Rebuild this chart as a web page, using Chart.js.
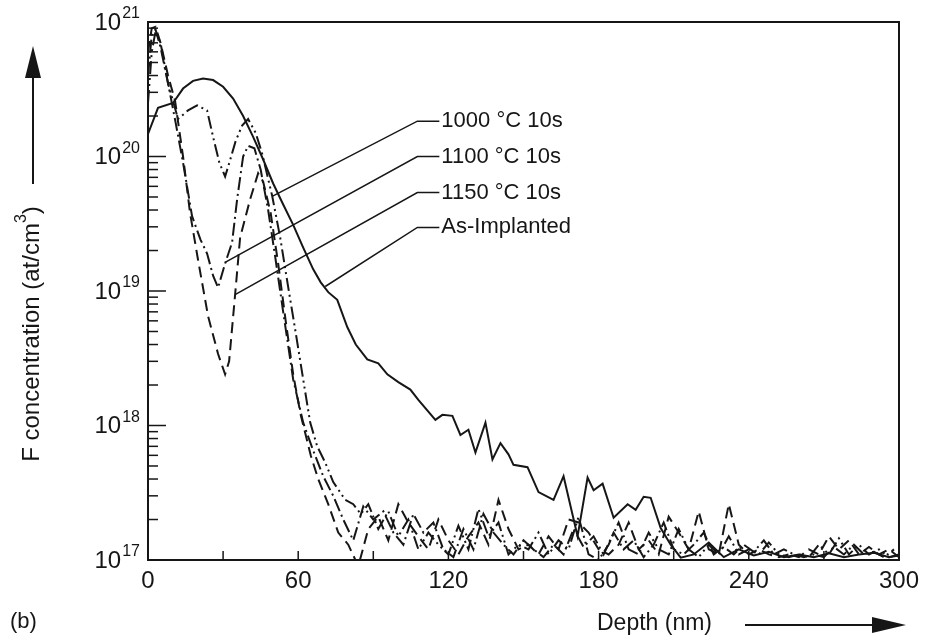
<!DOCTYPE html>
<html>

<head>
    <meta charset="UTF-8" />
    <title>F concentration profile</title>
    <style>
        html, body { margin: 0; padding: 0; background: #fff; }
        canvas#chartId { display: block; }
    </style>
</head>

<body>
    <canvas id="chartId" width="928" height="642"></canvas>
    <script src="https://cdn.jsdelivr.net/npm/chart.js@4/dist/chart.umd.min.js"></script>
    <script>
        // ---- data (depth in nm, concentration in at/cm3) ----
        const asDepth = [0, 4, 10, 14, 18, 22, 26, 30, 34, 38, 42, 46, 50, 54, 58, 62, 66, 69, 72, 75.6,
            79.6, 83, 87.6, 92, 95.6, 100, 104.8, 108, 114.8, 117.6, 121.6, 124.8, 128, 130.8, 134.8, 137.6,
            140.8, 144, 146, 151.6, 156, 162, 166, 171.6, 175.6, 178, 181.6, 186, 191.6, 194.8, 198, 200.8,
            204.8, 208.8, 212.8, 218, 224, 230, 236, 242, 248, 254, 260, 266, 272, 278, 284, 290, 296, 300];
        const asConc = [1.47e20, 2.3e20, 2.5e20, 3.2e20, 3.65e20, 3.8e20, 3.7e20, 3.3e20, 2.7e20, 2.0e20,
            1.4e20, 9.5e19, 6.3e19, 4.4e19, 3.1e19, 2.1e19, 1.45e19, 1.16e19, 9.8e18, 8.6e18,
            5.4e18, 4.0e18, 3.1e18, 2.9e18, 2.4e18, 2.1e18, 1.85e18, 1.55e18, 1.1e18, 1.2e18,
            1.18e18, 8.5e17, 9.3e17, 6.3e17, 1.05e18, 5.6e17, 7.4e17, 6.1e17, 5.1e17, 4.9e17,
            3.2e17, 2.8e17, 4.2e17, 1.5e17, 4.1e17, 3.3e17, 3.7e17, 2.06e17, 2.6e17, 2.36e17,
            2.95e17, 2.9e17, 1.73e17, 1.3e17, 1.04e17, 1.1e17, 1.35e17, 1.05e17, 1.2e17, 1.08e17,
            1.15e17, 1.05e17, 1.1e17, 1.05e17, 1.12e17, 1.05e17, 1.1e17, 1.13e17, 1.05e17, 1.08e17];

        const d1000Depth = [0, 1.5, 3, 5, 8, 12, 16, 19.6, 23.6, 26, 28.5, 30.8, 32.5, 35, 37.6, 40, 43, 45.6,
            49.6, 52.8, 56, 59, 62, 64.8, 67.6, 70.8, 74, 78.8,
            82, 85, 88, 92, 96, 100, 104, 108, 112, 116, 120, 124, 128, 132, 136, 140, 144, 148, 152, 156,
            160, 164, 168, 172, 176, 180, 184, 188, 192, 196, 200, 204, 208, 212, 216, 220, 224, 228, 232,
            236, 240, 244, 248, 252, 256, 260, 264, 268, 272, 276, 280, 284, 288, 292, 296, 300];
        const d1000Conc = [2.5e20, 6e20, 8.5e20, 7e20, 3.5e20, 1.9e20, 2.2e20, 2.4e20, 2.2e20, 1.4e20, 9e19,
            7.1e19, 9e19, 1.3e20, 1.7e20, 1.9e20, 1.5e20, 1.05e20, 5.1e19, 2.5e19, 1.07e19, 4.9e18, 2.2e18,
            1.05e18, 7e17, 5.3e17, 3.8e17, 2.8e17,
            2.6e17, 2.2e17, 2.6e17, 1.7e17, 2.3e17, 1.5e17, 2.0e17, 1.2e17, 1.6e17, 1.3e17, 1.1e17, 1.8e17,
            1.2e17, 2.4e17, 1.5e17, 1.9e17, 1.1e17, 1.3e17, 1.2e17, 1.6e17, 1.1e17, 1.4e17, 1.2e17, 2.1e17,
            1.1e17, 1.0e17, 1.3e17, 1.9e17, 1.2e17, 1.1e17, 1.6e17, 1.2e17, 1.1e17, 1.7e17, 1.2e17, 1.05e17,
            1.3e17, 1.1e17, 1.5e17, 1.1e17, 1.2e17, 1.1e17, 1.35e17, 1.1e17, 1.05e17, 1.1e17, 1.05e17,
            1.3e17, 1.1e17, 1.45e17, 1.1e17, 1.3e17, 1.1e17, 1.2e17, 1.05e17, 1.1e17];

        const d1100Depth = [0, 1.5, 3, 5, 8, 11, 14, 17.6, 21, 23.6, 26, 28, 30.8, 33.6, 35.6, 38, 40, 42.5, 45,
            48, 51, 54, 58, 62, 66, 70, 74,
            78, 82, 86, 90, 94, 98, 102, 106, 110, 114, 118, 122, 126, 130, 134, 138, 142, 146, 150, 154,
            158, 162, 166, 170, 174, 178, 182, 186, 190, 194, 198, 202, 206, 210, 214, 218, 222, 226, 230,
            234, 238, 242, 246, 250, 254, 258, 262, 266, 270, 274, 278, 282, 286, 290, 294, 298];
        const d1100Conc = [4e20, 8e20, 8.8e20, 6.5e20, 3.5e20, 1.8e20, 9e19, 3.6e19, 2.4e19, 1.9e19, 1.3e19,
            1.06e19, 1.6e19, 2.3e19, 4.8e19, 1.0e20, 1.2e20, 1.15e20, 8e19, 4e19, 1.7e19, 7e18, 2.2e18,
            1.05e18, 6.5e17, 4.2e17, 3e17,
            2.0e17, 1.4e17, 2.5e17, 2.0e17, 2.3e17, 1.6e17, 1.3e17, 2.2e17, 1.6e17, 1.9e17, 1.2e17, 1.05e17,
            1.7e17, 1.2e17, 2.2e17, 1.6e17, 1.3e17, 1.1e17, 1.4e17, 1.2e17, 1.05e17, 1.3e17, 1.1e17, 1.7e17,
            1.25e17, 1.5e17, 1.1e17, 1.6e17, 1.2e17, 1.4e17, 1.05e17, 1.3e17, 1.9e17, 1.2e17, 1.1e17,
            1.3e17, 1.6e17, 1.1e17, 1.25e17, 1.1e17, 1.3e17, 1.15e17, 1.4e17, 1.1e17, 1.2e17, 1.1e17,
            1.05e17, 1.1e17, 1.05e17, 1.25e17, 1.1e17, 1.3e17, 1.1e17, 1.15e17, 1.05e17, 1.2e17];

        const d1150Depth = [0, 1.5, 3, 5, 8, 10.8, 14, 16.8, 20, 24, 28, 30.8, 32.4, 34.8, 36.8, 40.8, 44, 46,
            49, 52, 55, 58, 61, 65, 68, 72, 76,
            80, 84, 88, 92, 96, 100, 104, 108, 112, 116, 120, 124, 128, 132, 136, 140, 144, 148, 152, 156,
            160, 164, 168, 172, 176, 180, 184, 188, 192, 196, 200, 204, 208, 212, 216, 220, 224, 228, 232,
            236, 240, 244, 248, 252, 256, 260, 264, 268, 272, 276, 280, 284, 288, 292, 296, 300];
        const d1150Conc = [6e20, 9e20, 9.2e20, 7e20, 4e20, 2.6e20, 1e20, 3.8e19, 1.7e19, 6.5e18, 3.4e18,
            2.4e18, 3e18, 9.4e18, 2.5e19, 4.8e19, 7.5e19, 6.5e19, 3.8e19, 1.6e19, 6e18, 2.4e18, 1.2e18,
            6e17, 4e17, 2.6e17, 1.6e17,
            1.3e17, 0.9e17, 1.7e17, 2.1e17, 1.4e17, 2.6e17, 1.9e17, 1.5e17, 1.2e17, 2.0e17, 1.4e17, 1.1e17,
            1.5e17, 1.9e17, 1.3e17, 2.8e17, 1.7e17, 1.2e17, 1.3e17, 1.1e17, 1.5e17, 1.2e17, 2.0e17, 1.9e17,
            1.6e17, 1.2e17, 1.1e17, 1.3e17, 1.9e17, 1.2e17, 1.4e17, 1.1e17, 2.1e17, 1.6e17, 1.2e17, 2.3e17,
            1.2e17, 1.1e17, 2.6e17, 1.3e17, 1.1e17, 1.2e17, 1.1e17, 1.05e17, 1.1e17, 1.05e17, 1.2e17,
            1.1e17, 1.5e17, 1.2e17, 1.4e17, 1.1e17, 1.25e17, 1.1e17, 1.2e17, 1.05e17];

        const seriesNames = ['1000 °C 10s', '1100 °C 10s', '1150 °C 10s', 'As-Implanted'];

        // axis ticks
        const xTickMarks = [0, 30, 60, 90, 120, 150, 180, 210, 240, 270, 300];
        const xTickLabels = [0, 60, 120, 180, 240, 300];
        const yTickExps = [17, 18, 19, 20, 21];

        // callout anchors: point on curve, elbow and label spot (data units)
        const callouts = [
            { name: seriesNames[0], at: [49.6, 5.06e19], elbow: [107.6, 1.83e20] },
            { name: seriesNames[1], at: [30.8, 1.63e19], elbow: [107.6, 1.0e20] },
            { name: seriesNames[2], at: [34.8, 9.4e18], elbow: [107.6, 5.4e19] },
            { name: seriesNames[3], at: [70.8, 1.08e19], elbow: [107.6, 2.97e19] }
        ];

        function pts(xs, ys) {
            return xs.map(function (x, i) { return { x: x, y: ys[i] }; });
        }

        const ink = '#161616';
        const FONT = '"Liberation Sans", Arial, Helvetica, sans-serif';

        const decor = {
            id: 'decor',
            afterDatasetsDraw(chart) {
                const ctx = chart.ctx;
                const a = chart.chartArea;
                const xs = chart.scales.x, ys = chart.scales.y;
                ctx.save();
                ctx.strokeStyle = ink;
                ctx.fillStyle = ink;
                ctx.lineCap = 'butt';

                // frame
                ctx.lineWidth = 2;
                ctx.strokeRect(a.left, a.top, a.right - a.left, a.bottom - a.top);

                // x ticks (inward)
                ctx.lineWidth = 1.5;
                xTickMarks.forEach(function (v) {
                    const px = xs.getPixelForValue(v);
                    ctx.beginPath();
                    ctx.moveTo(px, a.bottom);
                    ctx.lineTo(px, a.bottom - 9);
                    ctx.stroke();
                });

                // y ticks: majors long, minors short
                yTickExps.forEach(function (e) {
                    const py = ys.getPixelForValue(Math.pow(10, e));
                    ctx.beginPath();
                    ctx.moveTo(a.left, py);
                    ctx.lineTo(a.left + 18, py);
                    ctx.stroke();
                    if (e < yTickExps[yTickExps.length - 1]) {
                        for (let m = 2; m <= 9; m++) {
                            const pm = ys.getPixelForValue(m * Math.pow(10, e));
                            ctx.beginPath();
                            ctx.moveTo(a.left, pm);
                            ctx.lineTo(a.left + 10, pm);
                            ctx.stroke();
                        }
                    }
                });

                // x tick labels
                ctx.font = '24px ' + FONT;
                ctx.textAlign = 'center';
                ctx.textBaseline = 'top';
                xTickLabels.forEach(function (v) {
                    ctx.fillText(String(v), xs.getPixelForValue(v), a.bottom + 9);
                });

                // y tick labels 10^n
                yTickExps.forEach(function (e) {
                    const py = ys.getPixelForValue(Math.pow(10, e));
                    const sup = String(e);
                    ctx.font = '16px ' + FONT;
                    const sw = ctx.measureText(sup).width;
                    ctx.textAlign = 'left';
                    ctx.textBaseline = 'alphabetic';
                    ctx.fillText(sup, a.left - 8 - sw, py - 4);
                    ctx.font = '24px ' + FONT;
                    ctx.textAlign = 'right';
                    ctx.textBaseline = 'middle';
                    ctx.fillText('10', a.left - 9 - sw, py + 1);
                });

                // x title + arrow
                ctx.font = '23px ' + FONT;
                ctx.textAlign = 'left';
                ctx.textBaseline = 'middle';
                ctx.fillText('Depth (nm)', 597, 624);
                ctx.lineWidth = 2;
                ctx.beginPath();
                ctx.moveTo(745, 625);
                ctx.lineTo(880, 625);
                ctx.stroke();
                ctx.beginPath();
                ctx.moveTo(872, 617);
                ctx.lineTo(906, 625);
                ctx.lineTo(872, 633);
                ctx.closePath();
                ctx.fill();

                // (b)
                ctx.font = '22px ' + FONT;
                ctx.fillText('(b)', 10, 622);

                // y title (rotated) + arrow
                ctx.save();
                ctx.translate(32, 334);
                ctx.rotate(-Math.PI / 2);
                const t1 = 'F concentration (at/cm', t2 = '3', t3 = ')';
                ctx.font = '24px ' + FONT;
                const w1 = ctx.measureText(t1).width, w3 = ctx.measureText(t3).width;
                ctx.font = '16px ' + FONT;
                const w2 = ctx.measureText(t2).width;
                let sx = -(w1 + w2 + w3) / 2;
                ctx.textAlign = 'left';
                ctx.textBaseline = 'middle';
                ctx.font = '24px ' + FONT;
                ctx.fillText(t1, sx, 0);
                ctx.font = '16px ' + FONT;
                ctx.fillText(t2, sx + w1, -10);
                ctx.font = '24px ' + FONT;
                ctx.fillText(t3, sx + w1 + w2, 0);
                ctx.restore();

                ctx.lineWidth = 2;
                ctx.beginPath();
                ctx.moveTo(33, 184);
                ctx.lineTo(33, 70);
                ctx.stroke();
                ctx.beginPath();
                ctx.moveTo(25, 78);
                ctx.lineTo(33, 46);
                ctx.lineTo(41, 78);
                ctx.closePath();
                ctx.fill();

                // callouts
                ctx.lineWidth = 1.5;
                ctx.font = '22px ' + FONT;
                ctx.textAlign = 'left';
                ctx.textBaseline = 'middle';
                callouts.forEach(function (c) {
                    const ax = xs.getPixelForValue(c.at[0]), ay = ys.getPixelForValue(c.at[1]);
                    const ex = xs.getPixelForValue(c.elbow[0]), ey = ys.getPixelForValue(c.elbow[1]);
                    ctx.beginPath();
                    ctx.moveTo(ax, ay);
                    ctx.lineTo(ex, ey);
                    ctx.lineTo(ex + 22, ey);
                    ctx.stroke();
                    ctx.fillText(c.name, ex + 24, ey);
                });

                ctx.restore();
            }
        };

        const lineStyle = { borderColor: ink, borderWidth: 2, pointRadius: 0, tension: 0, fill: false };

        new Chart(document.getElementById('chartId').getContext('2d'), {
            type: 'line',
            data: {
                datasets: [
                    Object.assign({ label: seriesNames[0], data: pts(d1000Depth, d1000Conc), borderDash: [13, 4, 2, 4, 2, 4] }, lineStyle),
                    Object.assign({ label: seriesNames[1], data: pts(d1100Depth, d1100Conc), borderDash: [13, 4, 2, 4] }, lineStyle),
                    Object.assign({ label: seriesNames[2], data: pts(d1150Depth, d1150Conc), borderDash: [11, 6] }, lineStyle),
                    Object.assign({ label: seriesNames[3], data: pts(asDepth, asConc) }, lineStyle)
                ]
            },
            options: {
                responsive: false,
                animation: false,
                devicePixelRatio: 1,
                layout: { padding: { left: 148, right: 29, top: 22, bottom: 82 } },
                plugins: { legend: { display: false }, tooltip: { enabled: false } },
                scales: {
                    x: { type: 'linear', min: 0, max: 300, display: false },
                    y: { type: 'logarithmic', min: 1e17, max: 1e21, display: false }
                }
            },
            plugins: [decor]
        });
    </script>
</body>

</html>
